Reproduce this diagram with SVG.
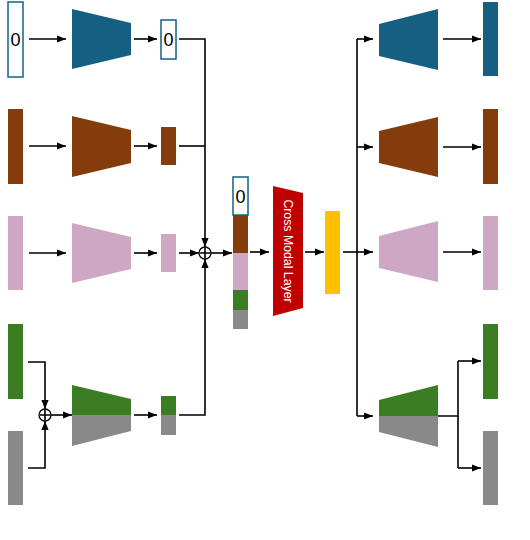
<svg xmlns="http://www.w3.org/2000/svg" width="530" height="540" viewBox="0 0 530 540">
<defs>
<marker id="ah" viewBox="0 0 10 10" refX="10" refY="5" markerWidth="9" markerHeight="9" markerUnits="userSpaceOnUse" orient="auto"><path d="M0,1 L10,5 L0,9 Z" fill="#000"/></marker>
</defs>
<style>
.blue{fill:#156082}
.brown{fill:#843C0C}
.pink{fill:#CDA7C4}
.green{fill:#3B7D23}
.gray{fill:#898989}
.zero{fill:#fff;stroke:#156082;stroke-width:1.5}
.ln{fill:none;stroke:#000;stroke-width:1.6}
.ar{fill:none;stroke:#000;stroke-width:1.6;marker-end:url(#ah)}
.t{font-family:"Liberation Sans",Arial,sans-serif;font-size:18px;fill:#000;text-anchor:middle}
.plus{fill:#fff;stroke:#000;stroke-width:1.3}
</style>
<rect width="530" height="540" fill="#fff"/>
<g id="connectors">
<path class="ar" d="M29,39 H66"/>
<path class="ar" d="M29,146 H66"/>
<path class="ar" d="M29,253 H66"/>
<path class="ar" d="M134,39 H157"/>
<path class="ar" d="M134,146 H157"/>
<path class="ar" d="M134,253 H157"/>
<path class="ar" d="M134,415 H157"/>
<path class="ln" d="M179,39 H205 V146"/>
<path class="ln" d="M179,146 H205"/>
<path class="ar" d="M205,146 V247"/>
<path class="ar" d="M179,253 H199"/>
<path class="ar" d="M179,415 H205 V259"/>
<path class="ar" d="M28,362 H45 V409"/>
<path class="ar" d="M28,468 H45 V421"/>
<path class="ar" d="M51,415 H72"/>
<path class="ar" d="M211,253 H232"/>
<path class="ar" d="M250,252 H269"/>
<path class="ar" d="M305,252 H324"/>
<path class="ln" d="M343,252 H358"/>
<path class="ln" d="M357,39 V416"/>
<path class="ar" d="M357,39 H373"/>
<path class="ar" d="M357,147 H373"/>
<path class="ar" d="M357,252 H373"/>
<path class="ar" d="M357,416 H373"/>
<path class="ar" d="M443,39 H481"/>
<path class="ar" d="M443,147 H481"/>
<path class="ar" d="M443,252 H481"/>
<path class="ln" d="M438,416 H458 V361"/>
<path class="ln" d="M458,416 V468"/>
<path class="ar" d="M458,361 H481"/>
<path class="ar" d="M458,468 H481"/>
</g>
<g id="plus-center"><circle class="plus" cx="205" cy="253" r="6"/><path class="ln" d="M200,253 H210 M205,248 V258" stroke-width="1.2"/></g>
<g id="plus-left"><circle class="plus" cx="45" cy="415" r="6"/><path class="ln" d="M40,415 H50 M45,410 V420" stroke-width="1.2"/></g>
<g id="in-blue"><rect class="zero" x="8" y="2" width="15" height="75"/><text class="t" x="15.5" y="46">0</text></g>
<g id="in-brown"><rect class="brown" x="8" y="109" width="15" height="75"/></g>
<g id="in-pink"><rect class="pink" x="8" y="216" width="15" height="74"/></g>
<g id="in-green"><rect class="green" x="8" y="324" width="15" height="75"/></g>
<g id="in-gray"><rect class="gray" x="8" y="431" width="15" height="74"/></g>
<g id="enc-blue"><polygon class="blue" points="72,9 131,23 131,55 72,69"/></g>
<g id="enc-brown"><polygon class="brown" points="72,116 131,130 131,163 72,177"/></g>
<g id="enc-pink"><polygon class="pink" points="72,223 131,237 131,269 72,283"/></g>
<g id="enc-mixed"><polygon class="green" points="72,385 131,399 131,415 72,415"/><polygon class="gray" points="72,415 131,415 131,431 72,446"/></g>
<g id="lat-blue"><rect class="zero" x="161" y="20" width="15" height="39"/><text class="t" x="168.5" y="46">0</text></g>
<g id="lat-brown"><rect class="brown" x="161" y="127" width="15" height="38"/></g>
<g id="lat-pink"><rect class="pink" x="161" y="234" width="15" height="38"/></g>
<g id="lat-mixed"><rect class="green" x="161" y="396" width="15" height="19"/><rect class="gray" x="161" y="415" width="15" height="20"/></g>
<g id="concat">
<rect class="zero" x="233" y="177" width="15" height="38"/><text class="t" x="240.5" y="203">0</text>
<rect class="brown" x="233" y="215" width="15" height="38"/>
<rect class="pink" x="233" y="253" width="15" height="37"/>
<rect class="green" x="233" y="290" width="15" height="20"/>
<rect class="gray" x="233" y="310" width="15" height="19"/>
</g>
<g id="cross-modal"><polygon fill="#C00000" points="273,186 303,193 303,308 273,316"/><text x="288" y="251" transform="rotate(90 288 251)" font-family="'Liberation Sans',Arial,sans-serif" font-size="12.3" fill="#fff" text-anchor="middle" dominant-baseline="central">Cross Modal Layer</text></g>
<g id="fused"><rect fill="#FFC000" x="325" y="211" width="15" height="83"/></g>
<g id="dec-blue"><polygon class="blue" points="379,24 438,9 438,70 379,56"/></g>
<g id="dec-brown"><polygon class="brown" points="379,131 438,117 438,177 379,163"/></g>
<g id="dec-pink"><polygon class="pink" points="379,236 438,221 438,282 379,268"/></g>
<g id="dec-mixed"><polygon class="green" points="379,400 438,385 438,416 379,416"/><polygon class="gray" points="379,416 438,416 438,447 379,432"/></g>
<g id="out-blue"><rect class="blue" x="483" y="2" width="15" height="74"/></g>
<g id="out-brown"><rect class="brown" x="483" y="109" width="15" height="75"/></g>
<g id="out-pink"><rect class="pink" x="483" y="216" width="15" height="74"/></g>
<g id="out-green"><rect class="green" x="483" y="324" width="15" height="75"/></g>
<g id="out-gray"><rect class="gray" x="483" y="431" width="15" height="74"/></g>
</svg>
